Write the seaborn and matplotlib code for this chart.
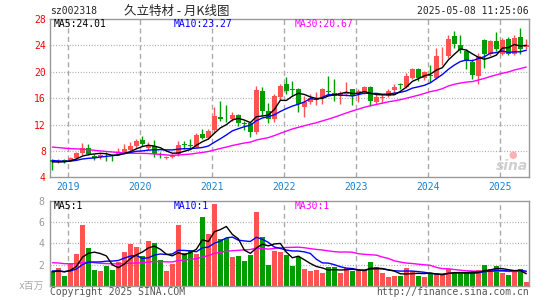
import numpy as np
import pandas as pd
import seaborn as sns
import matplotlib.pyplot as plt

# 久立特材 monthly K-line, Oct 2018 .. May 2025 (one value per month)
start_month = '2018-10'

open_ = [6.65, 6.3, 6.55, 6.55, 6.95, 7.7, 8.45, 7.25, 7.1, 7.45,
         7.4, 7.55, 7.8, 8.2, 8.7, 9.6, 8.4, 8.7, 7.6, 7.0,
         7.1, 7.5, 9.0, 8.95, 8.6, 10.5, 9.9, 11.1, 13.2, 12.85,
         12.85, 13.45, 12.2, 12.2, 10.85, 17.1, 14.1, 12.85, 16.1, 18.1,
         17.35, 17.35, 14.6, 15.35, 15.7, 16.1, 17.0, 16.85, 16.35, 16.6,
         17.35, 16.6, 17.0, 17.7, 15.45, 16.0, 16.35, 17.2, 18.15, 17.7,
         19.1, 20.35, 19.1, 19.5, 19.1, 22.2, 22.45, 25.35, 24.1, 23.1,
         21.45, 19.35, 24.85, 22.75, 24.6, 22.75, 24.95, 22.75, 25.25, 23.75]
high = [6.7, 6.85, 6.75, 7.1, 7.85, 9.2, 9.0, 7.6, 7.75, 7.8,
        7.6, 8.5, 9.0, 9.35, 9.85, 10.25, 9.4, 9.7, 7.9, 7.3,
        7.6, 9.5, 9.5, 9.85, 10.7, 11.3, 11.25, 14.6, 15.6, 15.0,
        13.85, 13.6, 12.6, 12.3, 17.85, 17.75, 15.3, 16.6, 18.1, 19.2,
        18.6, 17.5, 16.35, 16.6, 16.95, 17.5, 19.3, 18.85, 17.1, 18.45,
        17.4, 17.35, 17.85, 17.85, 16.6, 16.6, 17.35, 18.2, 18.35, 19.85,
        20.6, 20.6, 20.1, 21.1, 23.6, 23.7, 25.5, 26.25, 25.6, 23.45,
        21.95, 22.85, 25.0, 24.75, 26.1, 25.1, 25.25, 25.6, 26.6, 24.95]
low = [5.1, 6.1, 6.1, 6.45, 6.6, 7.35, 7.35, 6.6, 6.75, 6.5,
       6.45, 7.4, 7.6, 8.0, 8.5, 8.7, 8.2, 7.1, 7.0, 6.8,
       6.9, 7.2, 8.35, 8.5, 8.4, 9.8, 9.8, 10.9, 12.6, 12.4,
       12.6, 11.85, 11.1, 10.1, 10.6, 13.35, 12.2, 12.35, 15.7, 16.6,
       16.3, 13.85, 13.1, 15.1, 15.0, 15.1, 16.5, 15.6, 15.1, 16.3,
       14.9, 15.35, 16.6, 14.85, 15.1, 15.3, 16.1, 16.85, 17.35, 17.5,
       18.9, 18.6, 18.8, 18.4, 18.85, 21.0, 22.1, 23.6, 22.9, 20.35,
       18.85, 18.1, 20.6, 22.4, 23.1, 22.5, 22.5, 22.5, 22.75, 23.5]
close = [6.3, 6.5, 6.45, 6.95, 7.7, 8.45, 7.6, 7.0, 7.45, 7.35,
         7.3, 7.8, 8.25, 8.75, 9.5, 9.0, 8.8, 7.6, 7.5, 7.05,
         7.3, 8.95, 8.95, 8.75, 10.35, 9.95, 11.0, 13.35, 12.8, 12.8,
         13.5, 12.2, 12.1, 10.85, 17.25, 14.1, 12.85, 16.35, 17.85, 17.1,
         17.3, 15.1, 15.45, 16.0, 15.9, 17.35, 16.95, 16.35, 16.85, 17.0,
         16.35, 17.1, 17.7, 15.5, 16.1, 16.1, 17.1, 17.75, 18.05, 19.35,
         20.45, 19.1, 19.95, 19.3, 22.45, 22.3, 24.95, 24.25, 23.35, 21.6,
         19.45, 22.35, 22.75, 24.6, 23.45, 24.75, 22.75, 25.1, 23.45, 24.0]
volume = [1.39, 1.70, 0.95, 2.05, 3.0, 5.72, 3.59, 1.48, 1.39, 1.89,
          1.48, 2.27, 3.21, 3.93, 3.68, 2.80, 4.22, 4.06, 2.42, 1.39,
          2.02, 5.72, 3.08, 3.40, 2.99, 6.51, 4.88, 7.71, 4.41, 4.47,
          2.74, 2.80, 2.36, 2.90, 6.98, 4.59, 1.98, 3.27, 3.14, 2.90,
          1.89, 2.74, 1.58, 1.39, 1.48, 1.20, 1.76, 1.76, 1.20, 1.64,
          1.42, 1.45, 1.45, 2.24, 1.76, 1.20, 0.82, 0.92, 0.92, 1.67,
          1.39, 0.92, 0.82, 1.20, 1.20, 1.04, 1.54, 1.20, 1.20, 1.20,
          1.25, 1.48, 1.95, 1.57, 1.86, 1.20, 1.00, 1.48, 1.57, 0.38]

# months before the window, only needed so the MA lines start where they do
prior_close = [8.8, 9.0, 8.9, 9.2, 9.6, 9.8, 9.9, 10.2, 10.0, 9.7,
               9.9, 10.1, 10.4, 9.8, 9.3, 9.6, 9.5, 9.7, 9.4, 9.1,
               7.2, 6.9, 6.8, 6.5, 6.4, 6.6, 6.3, 6.2, 6.3]
prior_vol = [2.4, 2.9, 2.2, 3.1, 2.6, 2.3, 2.8, 3.4, 2.5, 2.1,
             2.7, 2.4, 2.6, 3.0, 2.2, 2.5, 2.3, 2.6, 2.1, 2.4,
             1.8, 1.5, 1.4, 1.3, 1.5, 1.2, 1.4, 1.3, 1.2]

price_ma_text = ['MA5:24.01', 'MA10:23.27', 'MA30:20.67']
vol_ma_text = ['MA5:1', 'MA10:1', 'MA30:1']

RED = '#ff5252'
GREEN = '#009c00'
MA_COLORS = ['black', '#0000ff', '#ff00ff']
GRID = '#aaaaaa'
W, H = 545, 300

months = pd.date_range(start_month, periods=len(close), freq='MS')
df = pd.DataFrame({'open': open_, 'high': high, 'low': low,
                   'close': close, 'volume': volume})
df['idx'] = np.arange(len(df))
df['dir'] = np.where(df['close'] >= df['open'], 'up', 'down')
n0 = len(prior_close)
full_c = pd.Series(prior_close + close)
full_v = pd.Series(prior_vol + volume)
for n in (5, 10, 30):
    df[f'ma{n}'] = full_c.rolling(n).mean().iloc[n0:].values
    df[f'vma{n}'] = full_v.rolling(n).mean().iloc[n0:].values

sns.set_style('white')
plt.rcParams['font.family'] = ['DejaVu Sans Mono', 'Noto Sans CJK SC']

fig = plt.figure(figsize=(W / 100, H / 100), dpi=100)
def px(x0, y0, x1, y1):
    return [x0 / W, 1 - y1 / H, (x1 - x0) / W, (y1 - y0) / H]
axp = fig.add_axes(px(50, 19, 529, 177.3))
axv = fig.add_axes(px(50, 201, 529, 285.7))

# candles
colors = np.where(df['dir'] == 'up', RED, GREEN)
axp.vlines(df['idx'], df['low'], df['high'], colors=colors, lw=1, zorder=2)
body = (df['close'] - df['open']).abs().clip(lower=0.1)
bottom = df[['open', 'close']].min(axis=1)
axp.bar(df['idx'], body, bottom=bottom, width=0.8, color=colors, lw=0, zorder=3)
for n, c in zip((30, 10, 5), MA_COLORS[::-1]):
    sns.lineplot(data=df, x='idx', y=f'ma{n}', color=c, lw=1, ax=axp, zorder=4)

# volume: categorical x, so bar i sits at position i; colour each bar by candle direction
sns.barplot(data=df, x='idx', y='volume', color=RED, width=0.83, saturation=1,
            errorbar=None, ax=axv, zorder=2)
for patch, c in zip(axv.patches, colors):
    patch.set_facecolor(c)
    patch.set_edgecolor('none')
for n, c in zip((30, 10, 5), MA_COLORS[::-1]):
    sns.lineplot(data=df, x='idx', y=f'vma{n}', color=c, lw=1, ax=axv, zorder=4)

year_idx = df['idx'][months.month == 1].values - 0.35
year_lab = [str(y) for y in months[months.month == 1].year]

for ax, ylim, yt in ((axp, (4, 28), range(4, 29, 4)), (axv, (0, 8), [2, 4, 6, 8])):
    ax.set_xlim(-0.4, len(df) - 0.55)
    ax.set_ylim(*ylim)
    ax.set_xlabel('')
    ax.set_ylabel('')
    for s in ax.spines.values():
        s.set_color('#999999')
        s.set_linewidth(1)
    for x in year_idx:
        ax.axvline(x, color=GRID, lw=1, ls=(0, (3.6, 2.5)), zorder=1)
    for y in yt:
        if ylim[0] < y < ylim[1]:
            ax.axhline(y, color=GRID, lw=0.9, ls=(0, (0.8, 1.4)), zorder=1)
    ax.set_yticks(list(yt))
    ax.tick_params(length=0, labelsize=7)

axp.set_xticks(year_idx)
axp.set_xticklabels(year_lab, color='#1a80d0')
axp.tick_params(axis='x', pad=3.5)
axp.tick_params(axis='y', colors='red', pad=3)
axv.set_xticks([])
axv.tick_params(axis='y', colors='#999999', pad=4)

def ftext(x, y, s, size=7, **kw):
    fig.text(x / W, 1 - y / H, s, va='center', fontsize=size, **kw)

ftext(50, 11, 'sz002318')
ftext(177, 11, '久立特材 - 月K线图', ha='center', size=9,
      family=['Noto Sans CJK SC', 'DejaVu Sans'])
ftext(529, 11.5, '2025-05-08 11:25:06', ha='right')
for x, s, c in zip((54, 174, 295), price_ma_text, MA_COLORS):
    ftext(x, 24, s, color=c)
for x, s, c in zip((54, 174, 295), vol_ma_text, MA_COLORS):
    ftext(x, 206, s, color=c)
ftext(19, 286, 'x百万', color='#aaaaaa')
ftext(50, 292, 'Copyright 2025 SINA.COM', color='#555555')
ftext(529, 292, 'http://finance.sina.com.cn', ha='right', color='#555555')
ftext(528, 166, 'sina', ha='right', color='#d0d0d0', size=10,
      fontweight='bold', fontstyle='italic', family='DejaVu Sans')
ftext(513, 155, '●', ha='center', color='#ffb0b0', size=7, family='DejaVu Sans')

fig.savefig('out.png', dpi=100)
